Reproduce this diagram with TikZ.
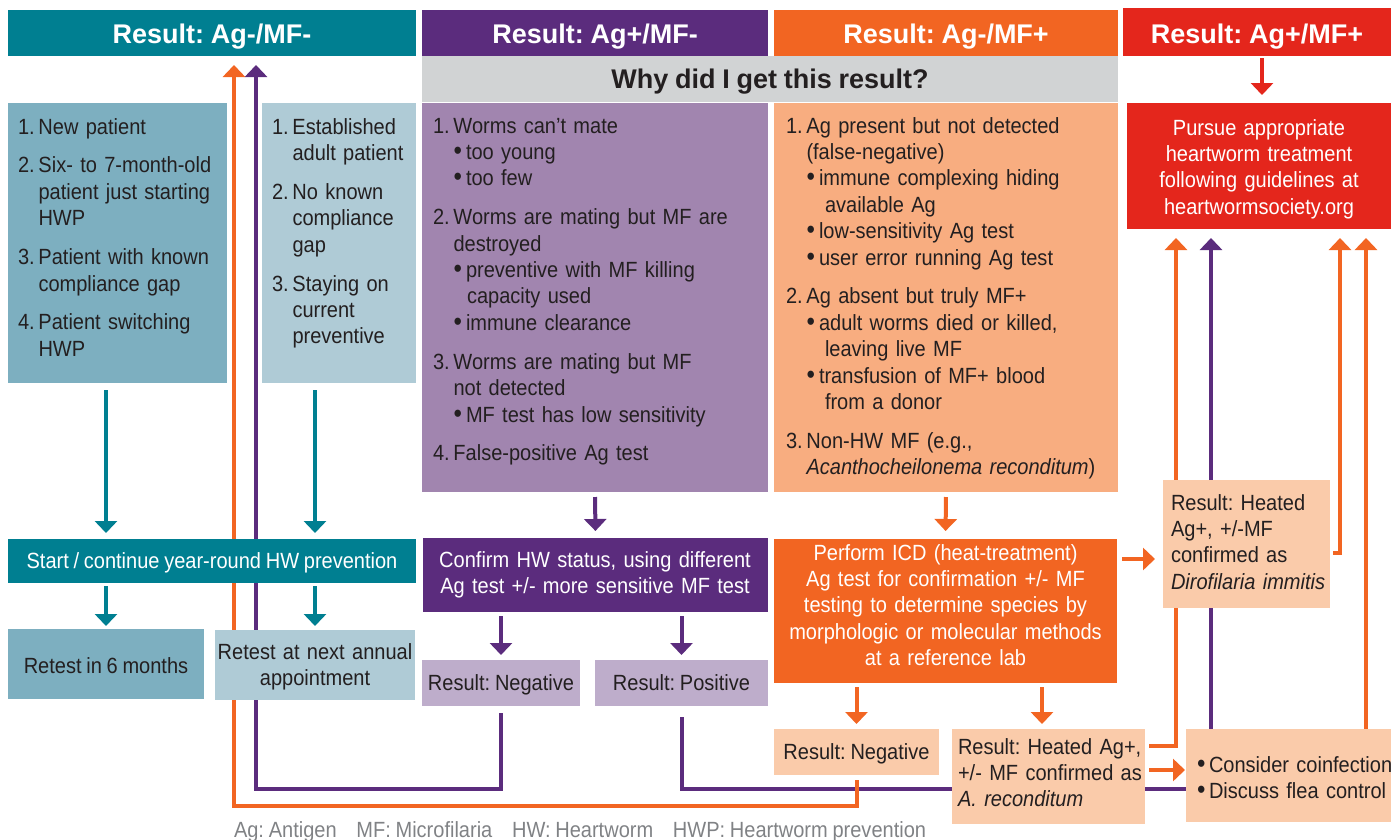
\documentclass[tikz,border=0pt]{standalone}
\usepackage{fontspec}
\usepackage{graphicx}
\setmainfont{Liberation Sans}[FakeStretch=0.91,WordSpace=0.85]
\newfontfamily\hfam{Liberation Sans}[WordSpace=0.9]
\usetikzlibrary{arrows.meta,calc}
\frenchspacing
\definecolor{cteal}{HTML}{007F91}
\definecolor{cpurp}{HTML}{5B2C7D}
\definecolor{corng}{HTML}{F26522}
\definecolor{cred}{HTML}{E4261C}
\definecolor{cgray}{HTML}{D1D3D4}
\definecolor{ctealL}{HTML}{7DAFC0}
\definecolor{cblueL}{HTML}{AFCBD6}
\definecolor{cpurpL}{HTML}{A185AF}
\definecolor{corngL}{HTML}{F8AD80}
\definecolor{clav}{HTML}{BEADCB}
\definecolor{cpeach}{HTML}{FACBAA}
\definecolor{cink}{HTML}{231F20}
\definecolor{cfoot}{HTML}{808285}
\newcommand\hwbody{\fontsize{22}{26.4}\selectfont\frenchspacing}
\newcommand\hwhead{\hfam\bfseries\fontsize{27}{30}\selectfont\frenchspacing}
\newcommand\hwdot{\scalebox{1.2}{\textbullet}}
\newcommand\hwnum[1]{\makebox[20.5pt][l]{#1}}
\newcommand\hwind{\hspace*{20.5pt}}
\newcommand\hwbul{\hspace*{20.5pt}\makebox[12.5pt][l]{\hwdot}}
\newcommand\hwbc{\hspace*{34pt}}
\newcommand\hwbcc{\hspace*{39pt}}
\tikzset{
  box/.style={inner sep=0pt, outer sep=0pt, anchor=north west, draw=none},
  txt/.style={inner sep=0pt, outer sep=0pt, anchor=base, font=\hwbody, text=cink},
  wtxt/.style={txt, text=white},
  lst/.style={inner sep=0pt, outer sep=0pt, anchor=base west, font=\hwbody, text=cink, text width=420pt, align=left},
  htxt/.style={inner sep=0pt, outer sep=0pt, anchor=base, font=\hwhead, text=white},
  tip/.style={-{Triangle[width=22pt,length=12pt]}},
  tarr/.style={tip, draw=cteal, line width=4pt},
  parr/.style={tip, draw=cpurp, line width=4pt},
  oarr/.style={tip, draw=corng, line width=4pt},
  rarr/.style={tip, draw=cred, line width=4pt},
  pline/.style={draw=cpurp, line width=4pt},
}
\begin{document}
\begin{tikzpicture}[x=1pt,y=-1pt]
\useasboundingbox (0,0) rectangle (1391,839);
\clip (0,0) rectangle (1391,839);

% ---------- boxes (geometry) ----------
\node[box, fill=cteal, minimum width=408pt, minimum height=46pt] (hA) at (8,10) {};
\node[box, fill=cpurp, minimum width=346pt, minimum height=46pt] (hB) at (422,10) {};
\node[box, fill=corng, minimum width=344pt, minimum height=46pt] (hC) at (774,10) {};
\node[box, fill=cred, minimum width=268pt, minimum height=48pt] (hD) at (1123,8) {};
\node[box, fill=cgray, minimum width=696pt, minimum height=46pt] (why) at (422,56) {};
\node[box, fill=cred, minimum width=264pt, minimum height=126pt] (treat) at (1127,103) {};
\node[box, fill=ctealL, minimum width=219pt, minimum height=280pt] (lst1) at (8,103) {};
\node[box, fill=cblueL, minimum width=154pt, minimum height=280pt] (lst2) at (262,103) {};
\node[box, fill=cpurpL, minimum width=346pt, minimum height=389pt] (lst3) at (422,103) {};
\node[box, fill=corngL, minimum width=344pt, minimum height=389pt] (lst4) at (774,103) {};

% coordinates for free connector ends
\coordinate (rtO) at (234,65);
\coordinate (rtP) at (256,65);
\coordinate (tO1) at (1176,238);
\coordinate (tP2) at (1211,238);
\coordinate (tO2) at (1340,238);
\coordinate (tO3) at (1366,238);
\coordinate (rx) at (1262,0);

% lower boxes: geometry first, filled after the connectors
\path
  node[box, minimum width=408pt, minimum height=44pt] (prev) at (8,539) {}
  node[box, minimum width=345pt, minimum height=74pt] (confirm) at (423,538) {}
  node[box, minimum width=343pt, minimum height=144pt] (icd) at (774,539) {}
  node[box, minimum width=167pt, minimum height=128pt] (dimm) at (1163,480) {}
  node[box, minimum width=196pt, minimum height=70pt] (r6) at (8,629) {}
  node[box, minimum width=200pt, minimum height=70pt] (rA) at (215,630) {}
  node[box, minimum width=158pt, minimum height=46pt] (negP) at (422,660) {}
  node[box, minimum width=173pt, minimum height=46pt] (posP) at (595,660) {}
  node[box, minimum width=165pt, minimum height=46pt] (negO) at (774,729) {}
  node[box, minimum width=193pt, minimum height=95pt] (arec) at (952,729) {}
  node[box, minimum width=205pt, minimum height=93pt] (coinf) at (1186,729) {};
\coordinate (arecIn) at ([xshift=-6.5pt]arec.north);

% ---------- long connectors (behind boxes) ----------
\draw[parr, shorten <=7pt] (negP.south) -- ++(0,83) -| (rtP);
\draw[pline, shorten <=11pt] (posP.south) |- ([yshift=-13.5pt]coinf.west);
\draw[parr] (coinf.north -| tP2) -- (tP2);
\draw[oarr, shorten <=5pt] (negO.south) -- ++(0,31) -| (rtO);
\draw[oarr, shorten <=4pt] ([yshift=30.5pt]arec.east) -| (tO1);
\draw[oarr, shorten <=3pt] ([yshift=-9pt]dimm.east) -| (tO2);
\draw[oarr] (coinf.north -| tO3) -- (tO3);

% ---------- lower boxes filled ----------
\fill[cteal] (prev.north west) rectangle (prev.south east);
\fill[cpurp] (confirm.north west) rectangle (confirm.south east);
\fill[corng] (icd.north west) rectangle (icd.south east);
\fill[cpeach] (dimm.north west) rectangle (dimm.south east);
\fill[ctealL] (r6.north west) rectangle (r6.south east);
\fill[cblueL] (rA.north west) rectangle (rA.south east);
\fill[clav] (negP.north west) rectangle (negP.south east);
\fill[clav] (posP.north west) rectangle (posP.south east);
\fill[cpeach] (negO.north west) rectangle (negO.south east);
\fill[cpeach] (arec.north west) rectangle (arec.south east);
\fill[cpeach] (coinf.north west) rectangle (coinf.south east);

% ---------- short arrows ----------
\draw[rarr, shorten <=2pt, shorten >=8pt] (hD.south -| rx) -- (treat.north -| rx);
\draw[tarr, shorten <=7pt, shorten >=6pt] (lst1.south -| r6.north) -- (prev.north -| r6.north);
\draw[tarr, shorten <=7pt, shorten >=6pt] (lst2.south -| rA.north) -- (prev.north -| rA.north);
\draw[tarr, shorten <=3pt, shorten >=3pt] (prev.south -| r6.north) -- (r6.north);
\draw[tarr, shorten <=3pt, shorten >=4pt] (prev.south -| rA.north) -- (rA.north);
\draw[parr, shorten <=5pt, shorten >=7pt] (lst3.south) -- (confirm.north);
\draw[parr, shorten <=4pt, shorten >=5pt] (confirm.south -| negP.north) -- (negP.north);
\draw[parr, shorten <=4pt, shorten >=5pt] (confirm.south -| posP.north) -- (posP.north);
\draw[oarr, shorten <=5pt, shorten >=8pt] (lst4.south) -- (icd.north);
\draw[oarr, shorten <=4pt, shorten >=5pt] (icd.south -| negO.north) -- (negO.north);
\draw[oarr, shorten <=4pt, shorten >=5pt] (icd.south -| arecIn) -- (arecIn);
\draw[oarr, shorten <=5pt, shorten >=8pt] ([yshift=52pt]icd.east) -- ([yshift=52pt]icd.east -| dimm.west);
\draw[oarr, shorten <=4pt, shorten >=1pt] ([yshift=6.5pt]arec.east) -- ([yshift=6.5pt]arec.east -| coinf.west);

% ---------- header texts ----------
\node[htxt] (thA) at (212,43) {Result: Ag-/MF-};
\node[htxt] (thB) at (595,43) {Result: Ag+/MF-};
\node[htxt] (thC) at (946,43) {Result: Ag-/MF+};
\node[htxt] (thD) at (1257,43) {Result: Ag+/MF+};
\node[htxt, text=cink] (twhy) at (770,88) {Why did I get this result?};

% ---------- list texts ----------
\node[lst] (t1) at (18,134) {\hwnum{1.}New patient\\[12.5pt]
\hwnum{2.}Six- to 7-month-old\\
\hwind patient just starting\\
\hwind HWP\\[12.5pt]
\hwnum{3.}Patient with known\\
\hwind compliance gap\\[12.5pt]
\hwnum{4.}Patient switching\\
\hwind HWP};

\node[lst] (t2) at (272,134) {\hwnum{1.}Established\\
\hwind adult patient\\[12.5pt]
\hwnum{2.}No known\\
\hwind compliance\\
\hwind gap\\[12.5pt]
\hwnum{3.}Staying on\\
\hwind current\\
\hwind preventive};

\node[lst] (t3) at (433,133) {\hwnum{1.}Worms can’t mate\\
\hwbul too young\\
\hwbul too few\\[12.5pt]
\hwnum{2.}Worms are mating but MF are\\
\hwind destroyed\\
\hwbul preventive with MF killing\\
\hwbc capacity used\\
\hwbul immune clearance\\[12.5pt]
\hwnum{3.}Worms are mating but MF\\
\hwind not detected\\
\hwbul MF test has low sensitivity\\[12.5pt]
\hwnum{4.}False-positive Ag test};

\node[lst] (t4) at (786,133) {\hwnum{1.}Ag present but not detected\\
\hwind (false-negative)\\
\hwbul immune complexing hiding\\
\hwbcc available Ag\\
\hwbul low-sensitivity Ag test\\
\hwbul user error running Ag test\\[12.5pt]
\hwnum{2.}Ag absent but truly MF+\\
\hwbul adult worms died or killed,\\
\hwbcc leaving live MF\\
\hwbul transfusion of MF+ blood\\
\hwbcc from a donor\\[12.5pt]
\hwnum{3.}Non-HW MF (e.g.,\\
\hwind \textit{Acanthocheilonema reconditum})};

% ---------- box texts ----------
\node[wtxt, text width=260pt, align=center] (ttreat) at (1259,135) {Pursue appropriate\\heartworm treatment\\following guidelines at\\heartwormsociety.org};
\node[wtxt] (tprev) at (212,568) {Start / continue year-round HW prevention};
\node[wtxt, text width=340pt, align=center] (tconf) at (595,567) {Confirm HW status, using different\\Ag test +/- more sensitive MF test};
\node[wtxt, text width=340pt, align=center] (ticd) at (945.5,560) {Perform ICD (heat-treatment)\\Ag test for confirmation +/- MF\\testing to determine species by\\morphologic or molecular methods\\at a reference lab};
\node[txt] (tr6) at (106,673) {Retest in 6 months};
\node[txt, text width=200pt, align=center] (trA) at (315,659) {Retest at next annual\\appointment};
\node[txt] (tnegP) at (501,690) {Result: Negative};
\node[txt] (tposP) at (681.5,690) {Result: Positive};
\node[txt] (tnegO) at (856.5,759) {Result: Negative};
\node[lst] (tarec) at (958,754) {Result: Heated Ag+,\\+/- MF confirmed as\\\textit{A. reconditum}};
\node[lst] (tdimm) at (1171,510) {Result: Heated\\Ag+, +/-MF\\confirmed as\\\textit{Dirofilaria immitis}};
\node[lst] (tcoinf) at (1197,772) {\makebox[12pt][l]{\hwdot}Consider coinfection\\\makebox[12pt][l]{\hwdot}Discuss flea control};

% ---------- footer ----------
\node[txt, anchor=base west, text=cfoot] (foot) at (234,837) {Ag: Antigen\hspace{15pt} MF: Microfilaria\hspace{15pt} HW: Heartworm\hspace{15pt} HWP: Heartworm prevention};
\end{tikzpicture}
\end{document}
